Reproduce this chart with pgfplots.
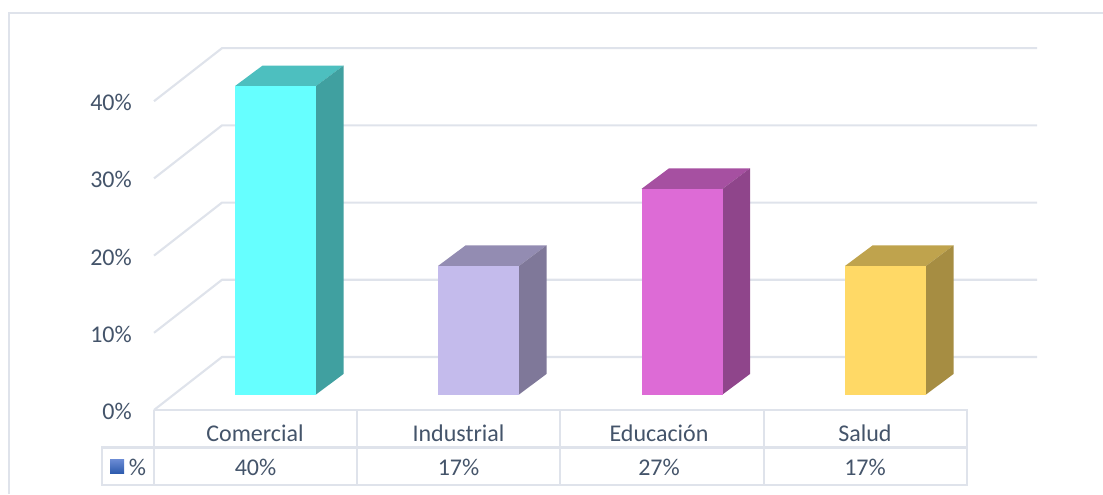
\documentclass[border=0pt]{standalone}
\usepackage{pgfplots}
\usepackage{fontspec}
\setmainfont{Carlito}
\pgfplotsset{compat=1.18}
\definecolor{gridc}{HTML}{DFE3EB}
\definecolor{txt}{HTML}{44546A}
\definecolor{keytop}{HTML}{6C8CD5}
\definecolor{keybot}{HTML}{2F5CAE}
\definecolor{af}{HTML}{66FFFF}\definecolor{as}{HTML}{40A0A0}\definecolor{at}{HTML}{4DBFBF}
\definecolor{bf}{HTML}{C4BBEC}\definecolor{bs}{HTML}{7F7899}\definecolor{bt}{HTML}{938CB2}
\definecolor{cf}{HTML}{DD6BD6}\definecolor{cs}{HTML}{8F458B}\definecolor{ct}{HTML}{A650A1}
\definecolor{df}{HTML}{FFD966}\definecolor{ds}{HTML}{A68D42}\definecolor{dt}{HTML}{BFA34D}
\pgfplotsset{base/.style={
  at={(0,0)},anchor=south west,scale only axis,width=827.25pt,height=370.5pt,
  xmin=0,xmax=1103,clip=false,axis line style={draw=none},
  xtick=\empty,major tick length=0pt}}
% face colour, side colour, top colour, left edge, value
\newcommand\cubar[5]{%
  \addplot[fill=#3,draw=none] coordinates {(#4,#5) (#4+81,#5) (#4+108.5,#5+2.66) (#4+27.5,#5+2.66)} --cycle;
  \addplot[fill=#2,draw=none] coordinates {(#4+81,0) (#4+108.5,2.66) (#4+108.5,#5+2.66) (#4+81,#5)} --cycle;
  \addplot[fill=#1,draw=none] coordinates {(#4,0) (#4+81,0) (#4+81,#5) (#4,#5)} --cycle;
}
\begin{document}
\begin{tikzpicture}
\useasboundingbox (0,0) rectangle (827.25pt,370.5pt);
\begin{axis}[base,ymin=-10.88,ymax=53.11,
  ytick={0,10,20,30,40},yticklabels={0\%,10\%,20\%,30\%,40\%},
  yticklabel style={anchor=east,xshift=99pt,yshift=-1pt,font=\fontsize{18pt}{20pt}\selectfont,text=txt,inner sep=0pt}]
% outer frame
\addplot[gridc,line width=1.5pt] coordinates {(8.5,-10.88) (8.5,51.42) (1103,51.42)};
% walls
\pgfplotsinvokeforeach{0,10,20,30,40}{
  \addplot[gridc,line width=1.6pt] coordinates {(154,#1) (222,#1+6.87) (1037,#1+6.87)};
}
% data table
\addplot[gridc,line width=1.7pt] coordinates {(154,0) (967,0) (967,-9.72) (102,-9.72) (102,-4.86) (967,-4.86)};
\pgfplotsinvokeforeach{154,357,560,764}{
  \addplot[gridc,line width=1.7pt] coordinates {(#1,0) (#1,-9.72)};
}
\addplot[top color=keytop,bottom color=keybot,draw=none] coordinates {(110,-6.35) (124,-6.35) (124,-8.16) (110,-8.16)} --cycle;
\tikzset{tl/.style={font=\fontsize{18pt}{20pt}\selectfont,text=txt,inner sep=0pt}}
\node[tl] at (axis cs:255,-2.98) {Comercial};
\node[tl] at (axis cs:458.5,-2.98) {Industrial};
\node[tl] at (axis cs:659,-2.98) {Educación};
\node[tl] at (axis cs:865,-2.98) {Salud};
\node[tl] at (axis cs:137.5,-7.38) {\%};
\node[tl] at (axis cs:255.5,-7.38) {40\%};
\node[tl] at (axis cs:458.5,-7.38) {17\%};
\node[tl] at (axis cs:659,-7.38) {27\%};
\node[tl] at (axis cs:865,-7.38) {17\%};
\end{axis}
\begin{axis}[base,ymin=-12.905,ymax=51.167,ytick=\empty]
\cubar{af}{as}{at}{235}{40}
\cubar{bf}{bs}{bt}{438}{16.67}
\cubar{cf}{cs}{ct}{641.5}{26.67}
\cubar{df}{ds}{dt}{845}{16.67}
\end{axis}
\end{tikzpicture}
\end{document}
